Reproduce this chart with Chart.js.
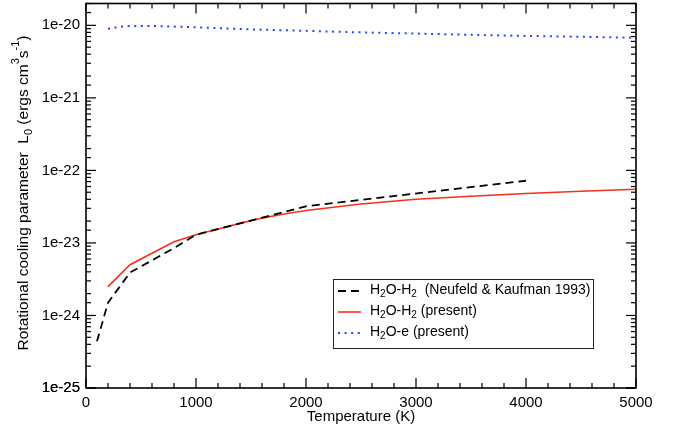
<!DOCTYPE html>
<html>
<head>
<meta charset="utf-8">
<title>H2O rotational cooling</title>
<script src="https://cdn.jsdelivr.net/npm/chart.js@4.4.1/dist/chart.umd.min.js"></script>
<style>
  html, body { margin: 0; padding: 0; background: #fff; }
  #wrap { width: 674px; height: 430px; }
</style>
</head>
<body>
<div id="wrap"><canvas id="coolingChart" width="674" height="430"></canvas></div>
<script>
// Neufeld & Kaufman (1993) H2O-H2 rates
const nkTemp = [100, 200, 400, 800, 1000, 2000, 4000];
const nkRate = [4.4e-25, 1.5e-24, 3.9e-24, 8.5e-24, 1.3e-23, 3.2e-23, 7.2e-23];

// present H2O-H2 rates
const h2Temp = [200, 400, 800, 1000, 1200, 1400, 1600, 1800, 2000, 2500, 3000, 3500, 4000, 4500, 5000];
const h2Rate = [2.5e-24, 5.0e-24, 1.04e-23, 1.3e-23, 1.56e-23, 1.86e-23, 2.2e-23, 2.5e-23, 2.8e-23,
                3.45e-23, 4.0e-23, 4.4e-23, 4.8e-23, 5.15e-23, 5.5e-23];

// present H2O-e rates
const eTemp = [200, 400, 600, 800, 1000, 1500, 2000, 2500, 3000, 3500, 4000, 4500, 5000];
const eRate = [9.0e-21, 9.8e-21, 9.8e-21, 9.6e-21, 9.4e-21, 8.8e-21, 8.4e-21, 8.0e-21, 7.7e-21,
               7.4e-21, 7.15e-21, 6.95e-21, 6.75e-21];

const FONT = '"Liberation Sans", Arial, Helvetica, sans-serif';
Chart.defaults.color = '#000';
Chart.defaults.font.family = FONT;

function pts(xs, ys) {
    return xs.map((x, i) => ({ x: x, y: ys[i] }));
}

function isDecade(v) {
    const l = Math.log10(v);
    return Math.abs(l - Math.round(l)) < 1e-6;
}

// draw text pieces with sub/superscripts, centred on (cx,cy)
function richText(ctx, parts, size, cx, cy) {
    const fontFor = p => (p[1] ? Math.round(size * 0.7) : size) + 'px ' + FONT;
    let total = 0;
    parts.forEach(p => { ctx.font = fontFor(p); total += ctx.measureText(p[0]).width; });
    let x = cx - total / 2;
    ctx.textBaseline = 'middle';
    ctx.textAlign = 'left';
    parts.forEach(p => {
        ctx.font = fontFor(p);
        let dy = 0;
        if (p[1] === 'sub') dy = size * 0.32;
        if (p[1] === 'sup') dy = -size * 0.5;
        ctx.fillText(p[0], x, cy + dy);
        x += ctx.measureText(p[0]).width;
    });
}

function richLeft(ctx, parts, size, x, cy) {
    let total = 0;
    parts.forEach(p => {
        ctx.font = (p[1] ? Math.round(size * 0.7) : size) + 'px ' + FONT;
        total += ctx.measureText(p[0]).width;
    });
    richText(ctx, parts, size, x + total / 2, cy);
}

// frame, inward tick marks, axis title and legend box
const framePlugin = {
    id: 'frame',
    afterDatasetsDraw(chart) {
        const ctx = chart.ctx;
        const { left, right, top, bottom } = chart.chartArea;
        const xs = chart.scales.x, ys = chart.scales.y;
        ctx.save();
        ctx.setLineDash([]);
        ctx.fillStyle = '#000';

        for (let t = 0; t <= 5000; t += 200) {
            const px = xs.getPixelForValue(t);
            const len = t % 1000 === 0 ? 10 : 5;
            ctx.fillRect(px - 0.6, bottom - len, 1.2, len);
            ctx.fillRect(px - 0.6, top, 1.2, len);
        }
        ys.ticks.forEach(tk => {
            const py = ys.getPixelForValue(tk.value);
            const len = isDecade(tk.value) ? 10 : 5;
            ctx.fillRect(left, py - 0.6, len, 1.2);
            ctx.fillRect(right - len, py - 0.6, len, 1.2);
        });

        ctx.strokeStyle = '#000';
        ctx.lineWidth = 1.6;
        ctx.strokeRect(left, top, right - left, bottom - top);

        // y axis title
        ctx.save();
        ctx.translate(24, 193);
        ctx.rotate(-Math.PI / 2);
        richText(ctx, [
            ['Rotational cooling parameter  L'], ['0', 'sub'], [' (ergs cm'], ['3', 'sup'],
            ['s'], ['-1', 'sup'], [')']
        ], 15.5, 0, 0);
        ctx.restore();

        // legend
        const bx = 333, by = 279, bw = 260, bh = 69;
        ctx.fillStyle = '#fff';
        ctx.fillRect(bx, by, bw, bh);
        ctx.strokeStyle = '#222';
        ctx.lineWidth = 1;
        ctx.strokeRect(bx + 0.5, by + 0.5, bw, bh);
        const labels = [
            [['H'], ['2', 'sub'], ['O-H'], ['2', 'sub'], ['  (Neufeld & Kaufman 1993)']],
            [['H'], ['2', 'sub'], ['O-H'], ['2', 'sub'], [' (present)']],
            [['H'], ['2', 'sub'], ['O-e (present)']]
        ];
        chart.data.datasets.forEach((ds, i) => {
            const ry = by + 12 + i * 21;
            ctx.strokeStyle = ds.borderColor;
            ctx.lineWidth = ds.borderWidth;
            ctx.setLineDash(ds.borderDash || []);
            ctx.beginPath();
            ctx.moveTo(338, ry);
            ctx.lineTo(361, ry);
            ctx.stroke();
            ctx.setLineDash([]);
            ctx.fillStyle = '#000';
            richLeft(ctx, labels[i], 14, 370, ry - 1);
        });
        ctx.restore();
    }
};

new Chart(document.getElementById('coolingChart'), {
    type: 'line',
    data: {
        datasets: [{
            label: 'H2O-H2 (Neufeld & Kaufman 1993)',
            data: pts(nkTemp, nkRate),
            borderColor: '#000',
            borderWidth: 1.8,
            borderDash: [8, 5],
            pointRadius: 0,
            fill: false
        }, {
            label: 'H2O-H2 (present)',
            data: pts(h2Temp, h2Rate),
            borderColor: '#f7301c',
            borderWidth: 1.6,
            pointRadius: 0,
            fill: false
        }, {
            label: 'H2O-e (present)',
            data: pts(eTemp, eRate),
            borderColor: '#2445ff',
            borderWidth: 2,
            borderDash: [2, 4.6],
            borderCapStyle: 'butt',
            pointRadius: 0,
            cubicInterpolationMode: 'monotone',
            fill: false
        }]
    },
    options: {
        responsive: false,
        animation: false,
        devicePixelRatio: 1,
        layout: { padding: { top: 3.5, right: 38, left: 0, bottom: 0 } },
        plugins: {
            legend: { display: false },
            tooltip: { enabled: false }
        },
        scales: {
            x: {
                type: 'linear',
                min: 0,
                max: 5000,
                grid: { display: true, drawOnChartArea: false, drawTicks: false },
                border: { display: false },
                title: {
                    display: true,
                    text: 'Temperature (K)',
                    font: { size: 15 },
                    padding: { top: 0, bottom: 4 }
                },
                ticks: {
                    stepSize: 1000,
                    padding: 6,
                    font: { size: 15 },
                    maxRotation: 0,
                    callback: v => String(v)
                },
                afterFit(s) { s.height = 42; s.paddingLeft = 0; s.paddingRight = 0; }
            },
            y: {
                type: 'logarithmic',
                min: 1e-25,
                max: 2e-20,
                grid: { display: true, drawOnChartArea: false, drawTicks: false },
                border: { display: false },
                ticks: {
                    autoSkip: false,
                    padding: 6,
                    font: { size: 15 },
                    callback: v => isDecade(v) ? '1e' + Math.round(Math.log10(v)) : ''
                },
                afterFit(s) { s.width = 86; s.paddingTop = 0; s.paddingBottom = 0; }
            }
        }
    },
    plugins: [framePlugin]
});
</script>
</body>
</html>
